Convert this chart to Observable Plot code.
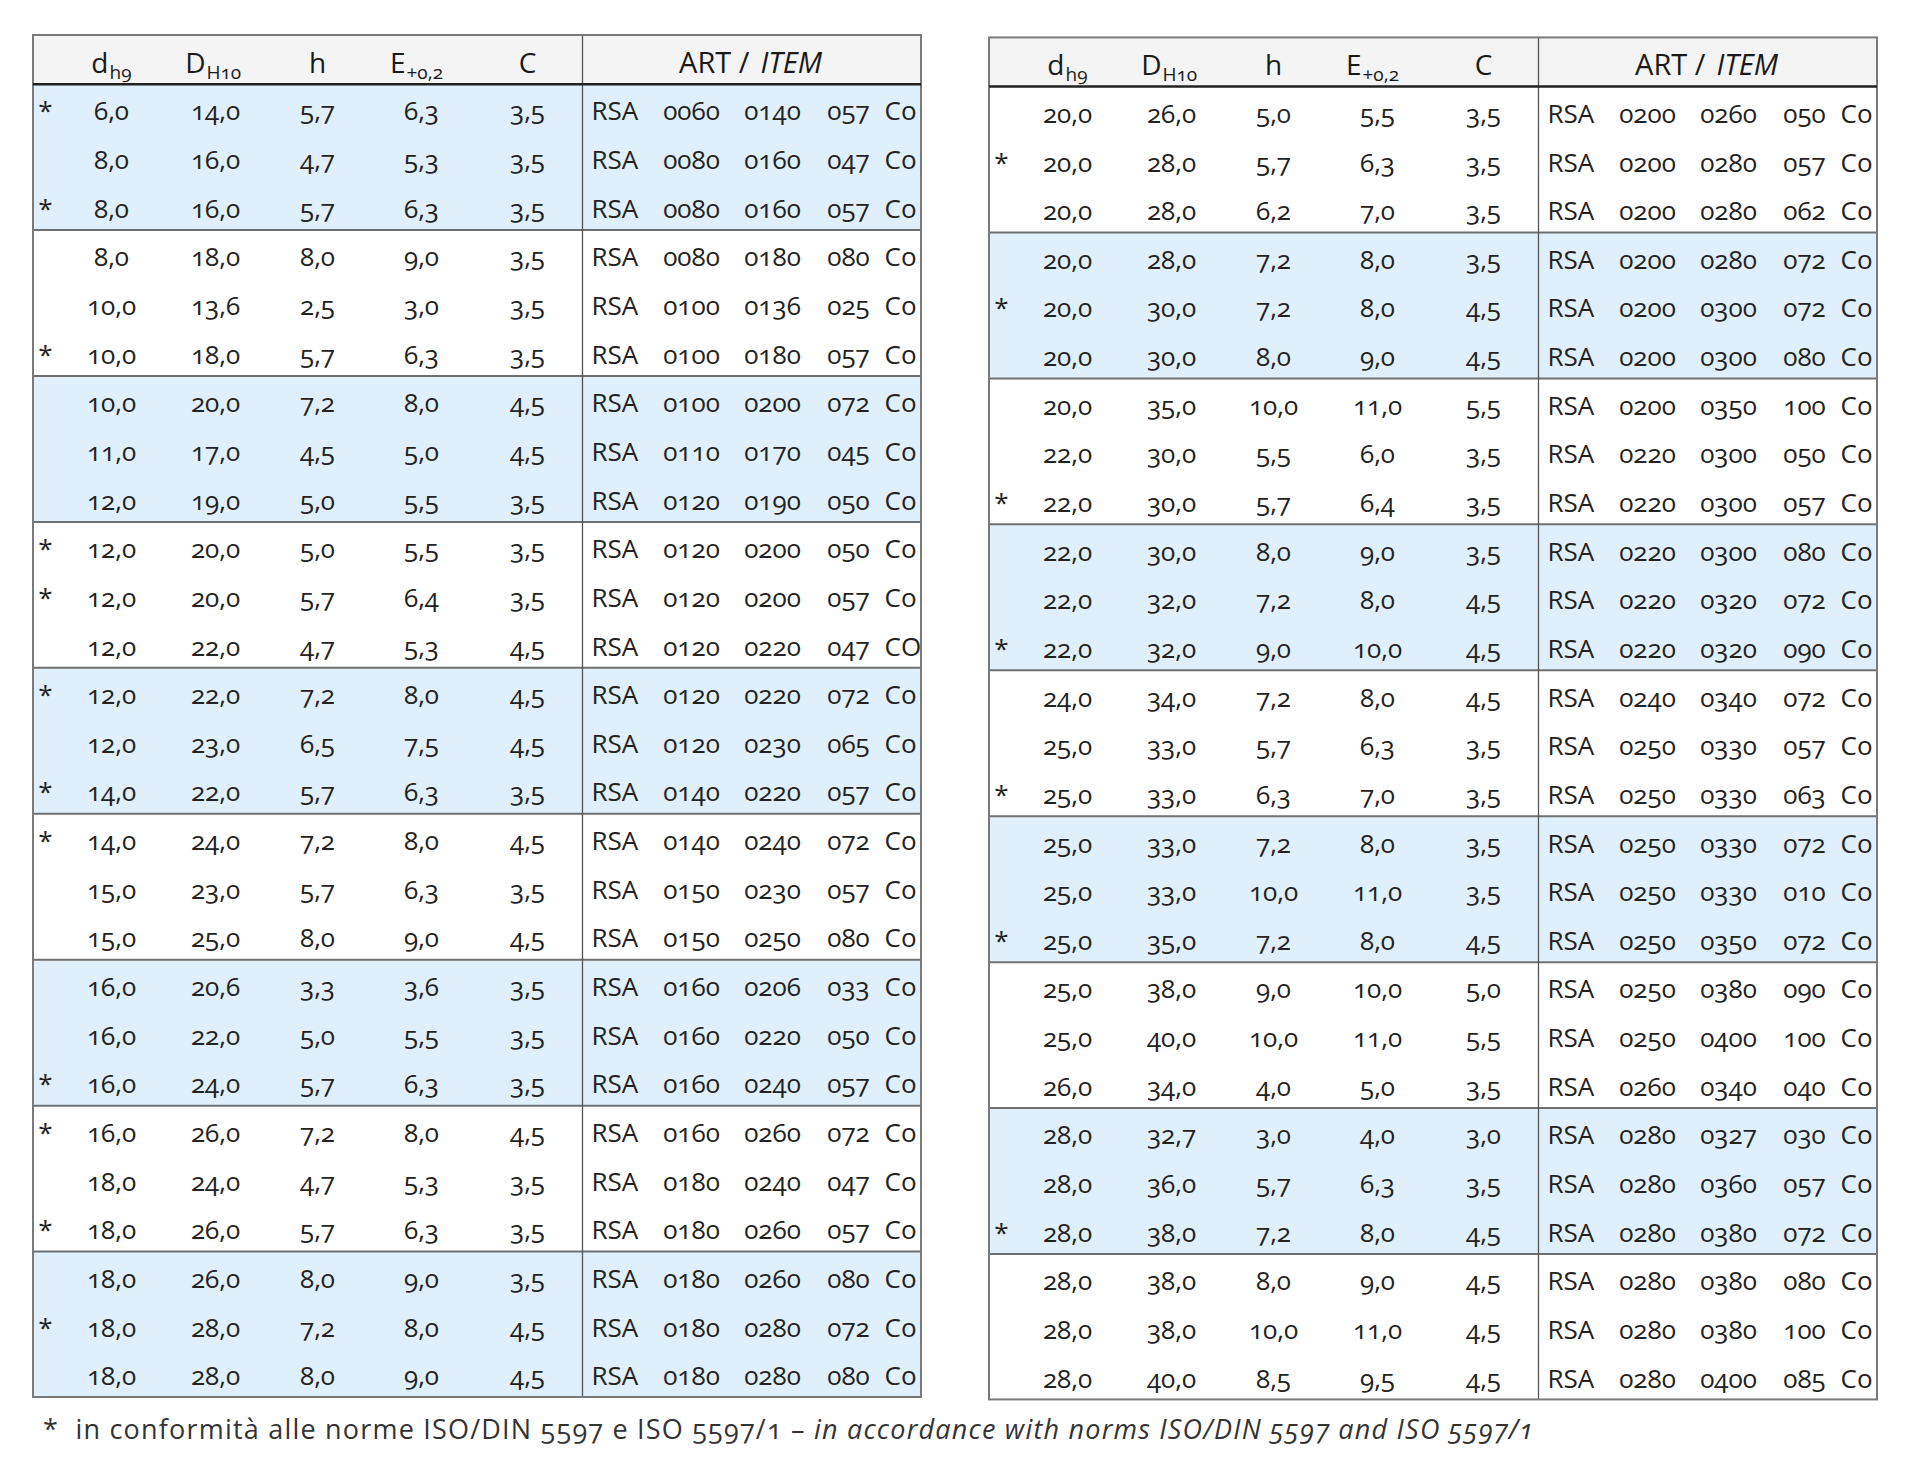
<!DOCTYPE html>
<html><head><meta charset="utf-8">
<script src="https://cdn.jsdelivr.net/npm/d3@7"></script>
<script src="https://cdn.jsdelivr.net/npm/@observablehq/plot@0.6"></script>
<style>
html,body{margin:0;padding:0;background:#fff;}
#chart{position:relative;width:1920px;height:1484px;overflow:hidden;}
#chart svg text{font-variant-numeric: oldstyle-nums tabular-nums; font-feature-settings: "onum" 1, "tnum" 1;}
#note{position:absolute;left:43px;top:1410px;font-family:"Open Sans";font-size:27px;letter-spacing:1.2px;color:#333;white-space:nowrap;font-variant-numeric:oldstyle-nums;font-feature-settings:"onum" 1;}
#note i{font-style:italic;}
</style></head><body><div id="chart"><div id="note">*&nbsp; in conformità alle norme ISO/DIN 5597 e ISO 5597/1 – <i>in accordance with norms ISO/DIN 5597 and ISO 5597/1</i></div></div>
<script>
// ---------- DATA ----------
const headMain = ["d", "D", "h", "E", "C"];
const headSub  = ["h9", "H10", "", "+0,2", ""];
const headArt  = ["ART /", "ITEM"];

const leftStar = [1,0,1, 0,0,1, 0,0,0, 1,1,0, 1,0,1, 1,0,0, 0,0,1, 1,0,1, 0,1,0];
const leftD  = [6,8,8, 8,10,10, 10,11,12, 12,12,12, 12,12,14, 14,15,15, 16,16,16, 16,18,18, 18,18,18];
const leftDD = [14,16,16, 18,13.6,18, 20,17,19, 20,20,22, 22,23,22, 24,23,25, 20.6,22,24, 26,24,26, 26,28,28];
const leftH  = [5.7,4.7,5.7, 8,2.5,5.7, 7.2,4.5,5, 5,5.7,4.7, 7.2,6.5,5.7, 7.2,5.7,8, 3.3,5,5.7, 7.2,4.7,5.7, 8,7.2,8];
const leftE  = [6.3,5.3,6.3, 9,3,6.3, 8,5,5.5, 5.5,6.4,5.3, 8,7.5,6.3, 8,6.3,9, 3.6,5.5,6.3, 8,5.3,6.3, 9,8,9];
const leftC  = [3.5,3.5,3.5, 3.5,3.5,3.5, 4.5,4.5,3.5, 3.5,3.5,4.5, 4.5,4.5,3.5, 4.5,3.5,4.5, 3.5,3.5,3.5, 4.5,3.5,3.5, 3.5,4.5,4.5];
const leftArt = ["RSA 0060 0140 057 Co","RSA 0080 0160 047 Co","RSA 0080 0160 057 Co","RSA 0080 0180 080 Co","RSA 0100 0136 025 Co","RSA 0100 0180 057 Co","RSA 0100 0200 072 Co","RSA 0110 0170 045 Co","RSA 0120 0190 050 Co","RSA 0120 0200 050 Co","RSA 0120 0200 057 Co","RSA 0120 0220 047 CO","RSA 0120 0220 072 Co","RSA 0120 0230 065 Co","RSA 0140 0220 057 Co","RSA 0140 0240 072 Co","RSA 0150 0230 057 Co","RSA 0150 0250 080 Co","RSA 0160 0206 033 Co","RSA 0160 0220 050 Co","RSA 0160 0240 057 Co","RSA 0160 0260 072 Co","RSA 0180 0240 047 Co","RSA 0180 0260 057 Co","RSA 0180 0260 080 Co","RSA 0180 0280 072 Co","RSA 0180 0280 080 Co"];
const leftShadedGroups = [0,2,4,6,8];

const rightStar = [0,1,0, 0,1,0, 0,0,1, 0,0,1, 0,0,1, 0,0,1, 0,0,0, 0,0,1, 0,0,0];
const rightD  = [20,20,20, 20,20,20, 20,22,22, 22,22,22, 24,25,25, 25,25,25, 25,25,26, 28,28,28, 28,28,28];
const rightDD = [26,28,28, 28,30,30, 35,30,30, 30,32,32, 34,33,33, 33,33,35, 38,40,34, 32.7,36,38, 38,38,40];
const rightH  = [5,5.7,6.2, 7.2,7.2,8, 10,5.5,5.7, 8,7.2,9, 7.2,5.7,6.3, 7.2,10,7.2, 9,10,4, 3,5.7,7.2, 8,10,8.5];
const rightE  = [5.5,6.3,7, 8,8,9, 11,6,6.4, 9,8,10, 8,6.3,7, 8,11,8, 10,11,5, 4,6.3,8, 9,11,9.5];
const rightC  = [3.5,3.5,3.5, 3.5,4.5,4.5, 5.5,3.5,3.5, 3.5,4.5,4.5, 4.5,3.5,3.5, 3.5,3.5,4.5, 5,5.5,3.5, 3,3.5,4.5, 4.5,4.5,4.5];
const rightArt = ["RSA 0200 0260 050 Co","RSA 0200 0280 057 Co","RSA 0200 0280 062 Co","RSA 0200 0280 072 Co","RSA 0200 0300 072 Co","RSA 0200 0300 080 Co","RSA 0200 0350 100 Co","RSA 0220 0300 050 Co","RSA 0220 0300 057 Co","RSA 0220 0300 080 Co","RSA 0220 0320 072 Co","RSA 0220 0320 090 Co","RSA 0240 0340 072 Co","RSA 0250 0330 057 Co","RSA 0250 0330 063 Co","RSA 0250 0330 072 Co","RSA 0250 0330 010 Co","RSA 0250 0350 072 Co","RSA 0250 0380 090 Co","RSA 0250 0400 100 Co","RSA 0260 0340 040 Co","RSA 0280 0327 030 Co","RSA 0280 0360 057 Co","RSA 0280 0380 072 Co","RSA 0280 0380 080 Co","RSA 0280 0380 100 Co","RSA 0280 0400 085 Co"];
const rightShadedGroups = [1,3,5,7];

// ---------- LAYOUT (positions / styles) ----------
const tableLeft = {L: 33, R: 989};
const tableTop = {L: 0, R: 0.05};
const tableWidth = 888;
const dividerX = 549;
const colX = {star: 12, d: 78, D: 182, h: 284, E: 388, C: 494, rsa: 558, c1: 658, c2: 739, c3: 815, co: 851};
const headSplit = {d: 75, D: 172, h: 284, E: 372, C: 494};
const artSplit = [716, 727];
const FONT = "Open Sans";
const nRows = 27;

// ---------- BUILD ----------
const fmt = d3.formatLocale({decimal: ",", thousands: ".", grouping: [3], currency: ["", ""]}).format(".1f");
const tables = [
  {t: "L", star: leftStar, d: leftD, D: leftDD, h: leftH, E: leftE, C: leftC, art: leftArt, shaded: leftShadedGroups},
  {t: "R", star: rightStar, d: rightD, D: rightDD, h: rightH, E: rightE, C: rightC, art: rightArt, shaded: rightShadedGroups}
];
const centerCells = [], startCells = [], shadeRects = [], groupLines = [], headerMain = [], headerSub = [];
for (const tb of tables) {
  for (let i = 0; i < nRows; i++) {
    if (tb.star[i]) centerCells.push({t: tb.t, row: i, col: "star", text: "*"});
    for (const k of ["d", "D", "h", "E", "C"]) centerCells.push({t: tb.t, row: i, col: k, text: fmt(tb[k][i])});
    const parts = tb.art[i].split(" ");
    startCells.push({t: tb.t, row: i, col: "rsa", text: parts[0]});
    centerCells.push({t: tb.t, row: i, col: "c1", text: parts[1]});
    centerCells.push({t: tb.t, row: i, col: "c2", text: parts[2]});
    centerCells.push({t: tb.t, row: i, col: "c3", text: parts[3]});
    startCells.push({t: tb.t, row: i, col: "co", text: parts[4]});
  }
  for (const g of tb.shaded) shadeRects.push({t: tb.t, y1: g * 3, y2: g * 3 + 3});
  for (let g = 1; g < nRows / 3; g++) groupLines.push({t: tb.t, y: g * 3});
  ["d", "D", "h", "E", "C"].forEach((k, j) => {
    headerMain.push({t: tb.t, col: k, text: headMain[j]});
    if (headSub[j]) headerSub.push({t: tb.t, col: k, text: headSub[j]});
  });
}
const tableFrames = tables.map(tb => ({t: tb.t}));
const X = d => tableLeft[d.t] + colX[d.col];
const x1 = d => tableLeft[d.t], x2 = d => tableLeft[d.t] + tableWidth;
const Y = v => d => v(d) + tableTop[d.t];

const plot = Plot.plot({
  width: 1920, height: 1410,
  marginTop: 0, marginRight: 0, marginBottom: 0, marginLeft: 0,
  x: {type: "linear", domain: [0, 1920], range: [0, 1920], axis: null},
  y: {type: "linear", domain: [-1, nRows], range: [35, 1397], axis: null},
  style: {background: "white", overflow: "visible"},
  marks: [
    Plot.rect(tableFrames, {x1, x2, y1: Y(() => -1), y2: Y(() => 0), fill: "#f4f4f4"}),
    Plot.rect(shadeRects, {x1, x2, y1: Y(d => d.y1), y2: Y(d => d.y2), fill: "#dff0fc"}),
    Plot.ruleY(groupLines, {x1, x2, y: Y(d => d.y), stroke: "#707070", strokeWidth: 2}),
    Plot.ruleX(tableFrames, {x: d => tableLeft[d.t] + dividerX, y1: Y(() => -1), y2: Y(() => nRows), stroke: "#555", strokeWidth: 1.3}),
    Plot.rect(tableFrames, {x1, x2, y1: Y(() => -1), y2: Y(() => nRows), fill: "none", stroke: "#7a7a7a", strokeWidth: 2}),
    Plot.ruleY(tableFrames, {x1, x2, y: Y(() => 0), stroke: "#222", strokeWidth: 2.5}),
    // header
    Plot.text(headerMain.filter(d => d.col === "h" || d.col === "C"), {x: d => tableLeft[d.t] + headSplit[d.col], y: Y(() => -0.5), text: "text", textAnchor: "middle", lineAnchor: "bottom", dy: 13, fontSize: 28, fontFamily: FONT, fill: "#1a1a1a"}),
    Plot.text(headerMain.filter(d => d.col !== "h" && d.col !== "C"), {x: d => tableLeft[d.t] + headSplit[d.col], y: Y(() => -0.5), text: "text", textAnchor: "end", lineAnchor: "bottom", dy: 13, fontSize: 28, fontFamily: FONT, fill: "#1a1a1a"}),
    Plot.text(headerSub, {x: d => tableLeft[d.t] + headSplit[d.col] + 1, y: Y(() => -0.5), text: "text", textAnchor: "start", lineAnchor: "bottom", dy: 19, fontSize: 19, fontFamily: FONT, fill: "#1a1a1a"}),
    Plot.text(tableFrames, {x: d => tableLeft[d.t] + artSplit[0], y: Y(() => -0.5), text: () => headArt[0], textAnchor: "end", lineAnchor: "bottom", dy: 13, fontSize: 29, fontFamily: FONT, fill: "#1a1a1a"}),
    Plot.text(tableFrames, {x: d => tableLeft[d.t] + artSplit[1], y: Y(() => -0.5), text: () => headArt[1], textAnchor: "start", lineAnchor: "bottom", dy: 13, fontSize: 29, fontFamily: FONT, fontStyle: "italic", fill: "#1a1a1a"}),
    // body
    Plot.text(centerCells, {x: X, y: Y(d => d.row + 0.5), text: "text", textAnchor: "middle", lineAnchor: "bottom", dy: 12, fontSize: 26, fontFamily: FONT, fill: "#222"}),
    Plot.text(startCells, {x: X, y: Y(d => d.row + 0.5), text: "text", textAnchor: "start", lineAnchor: "bottom", dy: 12, fontSize: 26, fontFamily: FONT, fill: "#222"})
  ]
});
document.getElementById("chart").prepend(plot);
</script>
</body></html>
